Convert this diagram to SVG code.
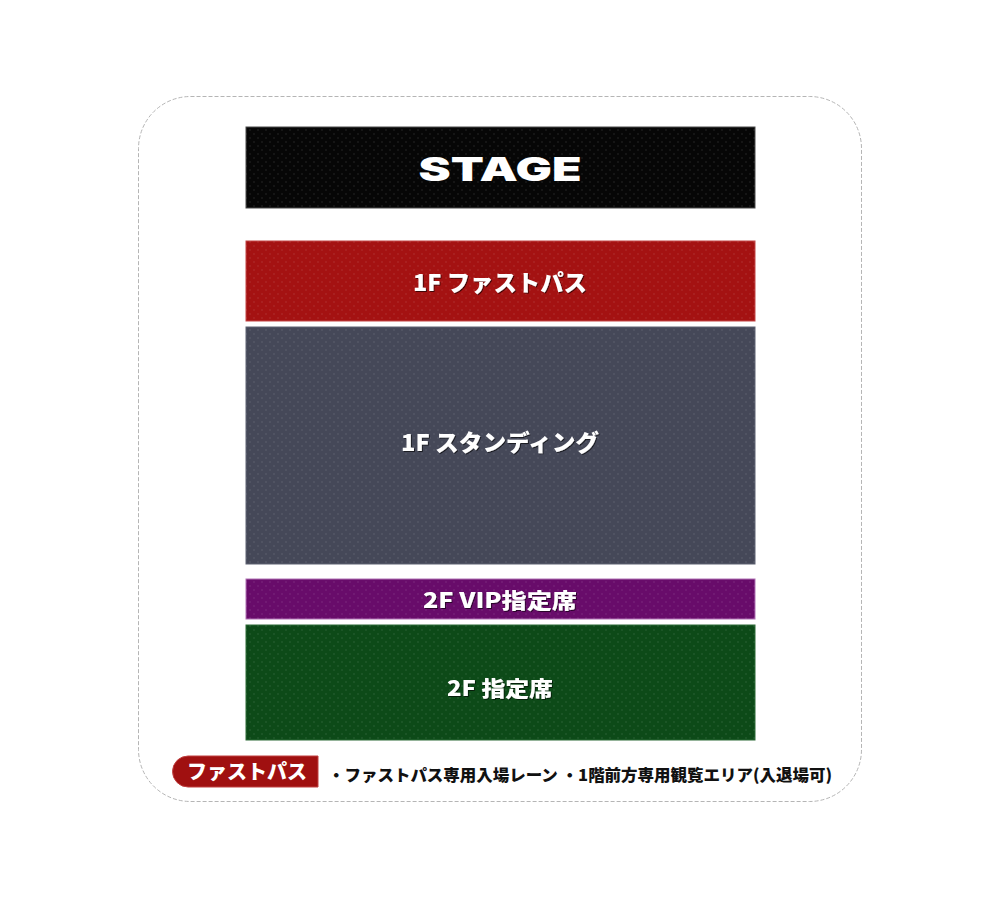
<svg xmlns="http://www.w3.org/2000/svg" width="1000" height="904" viewBox="0 0 1000 904">
<defs>
<pattern id="dots" width="8" height="8" patternUnits="userSpaceOnUse">
<circle cx="2" cy="2" r="1" fill="#ffffff" fill-opacity="0.08"/>
<circle cx="6" cy="6" r="1" fill="#ffffff" fill-opacity="0.08"/>
</pattern>
<filter id="sh" x="-10%" y="-30%" width="120%" height="160%">
<feDropShadow dx="1" dy="1" stdDeviation="0.6" flood-color="#000" flood-opacity="0.6"/>
</filter>
</defs>
<style>
.lbl{font-family:"Noto Sans CJK JP","Noto Sans",sans-serif;font-weight:900;fill:#ffffff;text-anchor:middle;}
.blk{stroke-width:1;}
.leg{font-family:"Noto Sans CJK JP","Noto Sans",sans-serif;font-weight:900;}
</style>
<rect width="1000" height="904" fill="#ffffff"/>
<rect id="frame" x="138.5" y="96.5" width="723" height="705" rx="52" ry="52" fill="#ffffff" stroke="#b5b5b5" stroke-width="1" stroke-dasharray="4 2"/>
<g id="stage">
<rect class="blk" x="246" y="127" width="509" height="81" fill="#060606" stroke="#4a4a4a"/>
<rect x="246" y="127" width="509" height="81" fill="url(#dots)"/>
<text x="500" y="181" font-family="Inter,'DejaVu Sans',sans-serif" font-weight="900" font-size="33" fill="#ffffff" text-anchor="middle" textLength="163" lengthAdjust="spacingAndGlyphs">STAGE</text>
</g>
<g id="fastpass">
<rect class="blk" x="246" y="241" width="509" height="80" fill="#a41212" stroke="#c24444"/>
<rect x="246" y="241" width="509" height="80" fill="url(#dots)"/>
<text class="lbl" x="500" y="291" font-size="23" filter="url(#sh)" textLength="174" lengthAdjust="spacingAndGlyphs">1F ファストパス</text>
</g>
<g id="standing">
<rect class="blk" x="246" y="327" width="509" height="237" fill="#454858" stroke="#5e6272"/>
<rect x="246" y="327" width="509" height="237" fill="url(#dots)"/>
<text class="lbl" x="500" y="451" font-size="23" filter="url(#sh)" textLength="198" lengthAdjust="spacingAndGlyphs">1F スタンディング</text>
</g>
<g id="vip">
<rect class="blk" x="246" y="579" width="509" height="40" fill="#680c6a" stroke="#b070b4"/>
<rect x="246" y="579" width="509" height="40" fill="url(#dots)"/>
<text class="lbl" x="500" y="608" font-size="21" filter="url(#sh)" textLength="154" lengthAdjust="spacingAndGlyphs">2F VIP指定席</text>
</g>
<g id="reserved">
<rect class="blk" x="246" y="625" width="509" height="115" fill="#0d4a18" stroke="#2c6a36"/>
<rect x="246" y="625" width="509" height="115" fill="url(#dots)"/>
<text class="lbl" x="500" y="696" font-size="21" filter="url(#sh)" textLength="106" lengthAdjust="spacingAndGlyphs">2F 指定席</text>
</g>
<g id="connectors"></g>
<g id="legend">
<path d="M188 756 H318 V787 H188 A15.5 15.5 0 0 1 188 756 Z" fill="#a01010" stroke="#c04040" stroke-width="1"/>
<text class="leg" x="247" y="779" font-size="20" fill="#ffffff" text-anchor="middle" textLength="120" lengthAdjust="spacingAndGlyphs">ファストパス</text>
<text class="leg" x="328" y="781" font-size="16" fill="#111111" textLength="504" lengthAdjust="spacingAndGlyphs">・ファストパス専用入場レーン ・1階前方専用観覧エリア(入退場可)</text>
</g>
</svg>
